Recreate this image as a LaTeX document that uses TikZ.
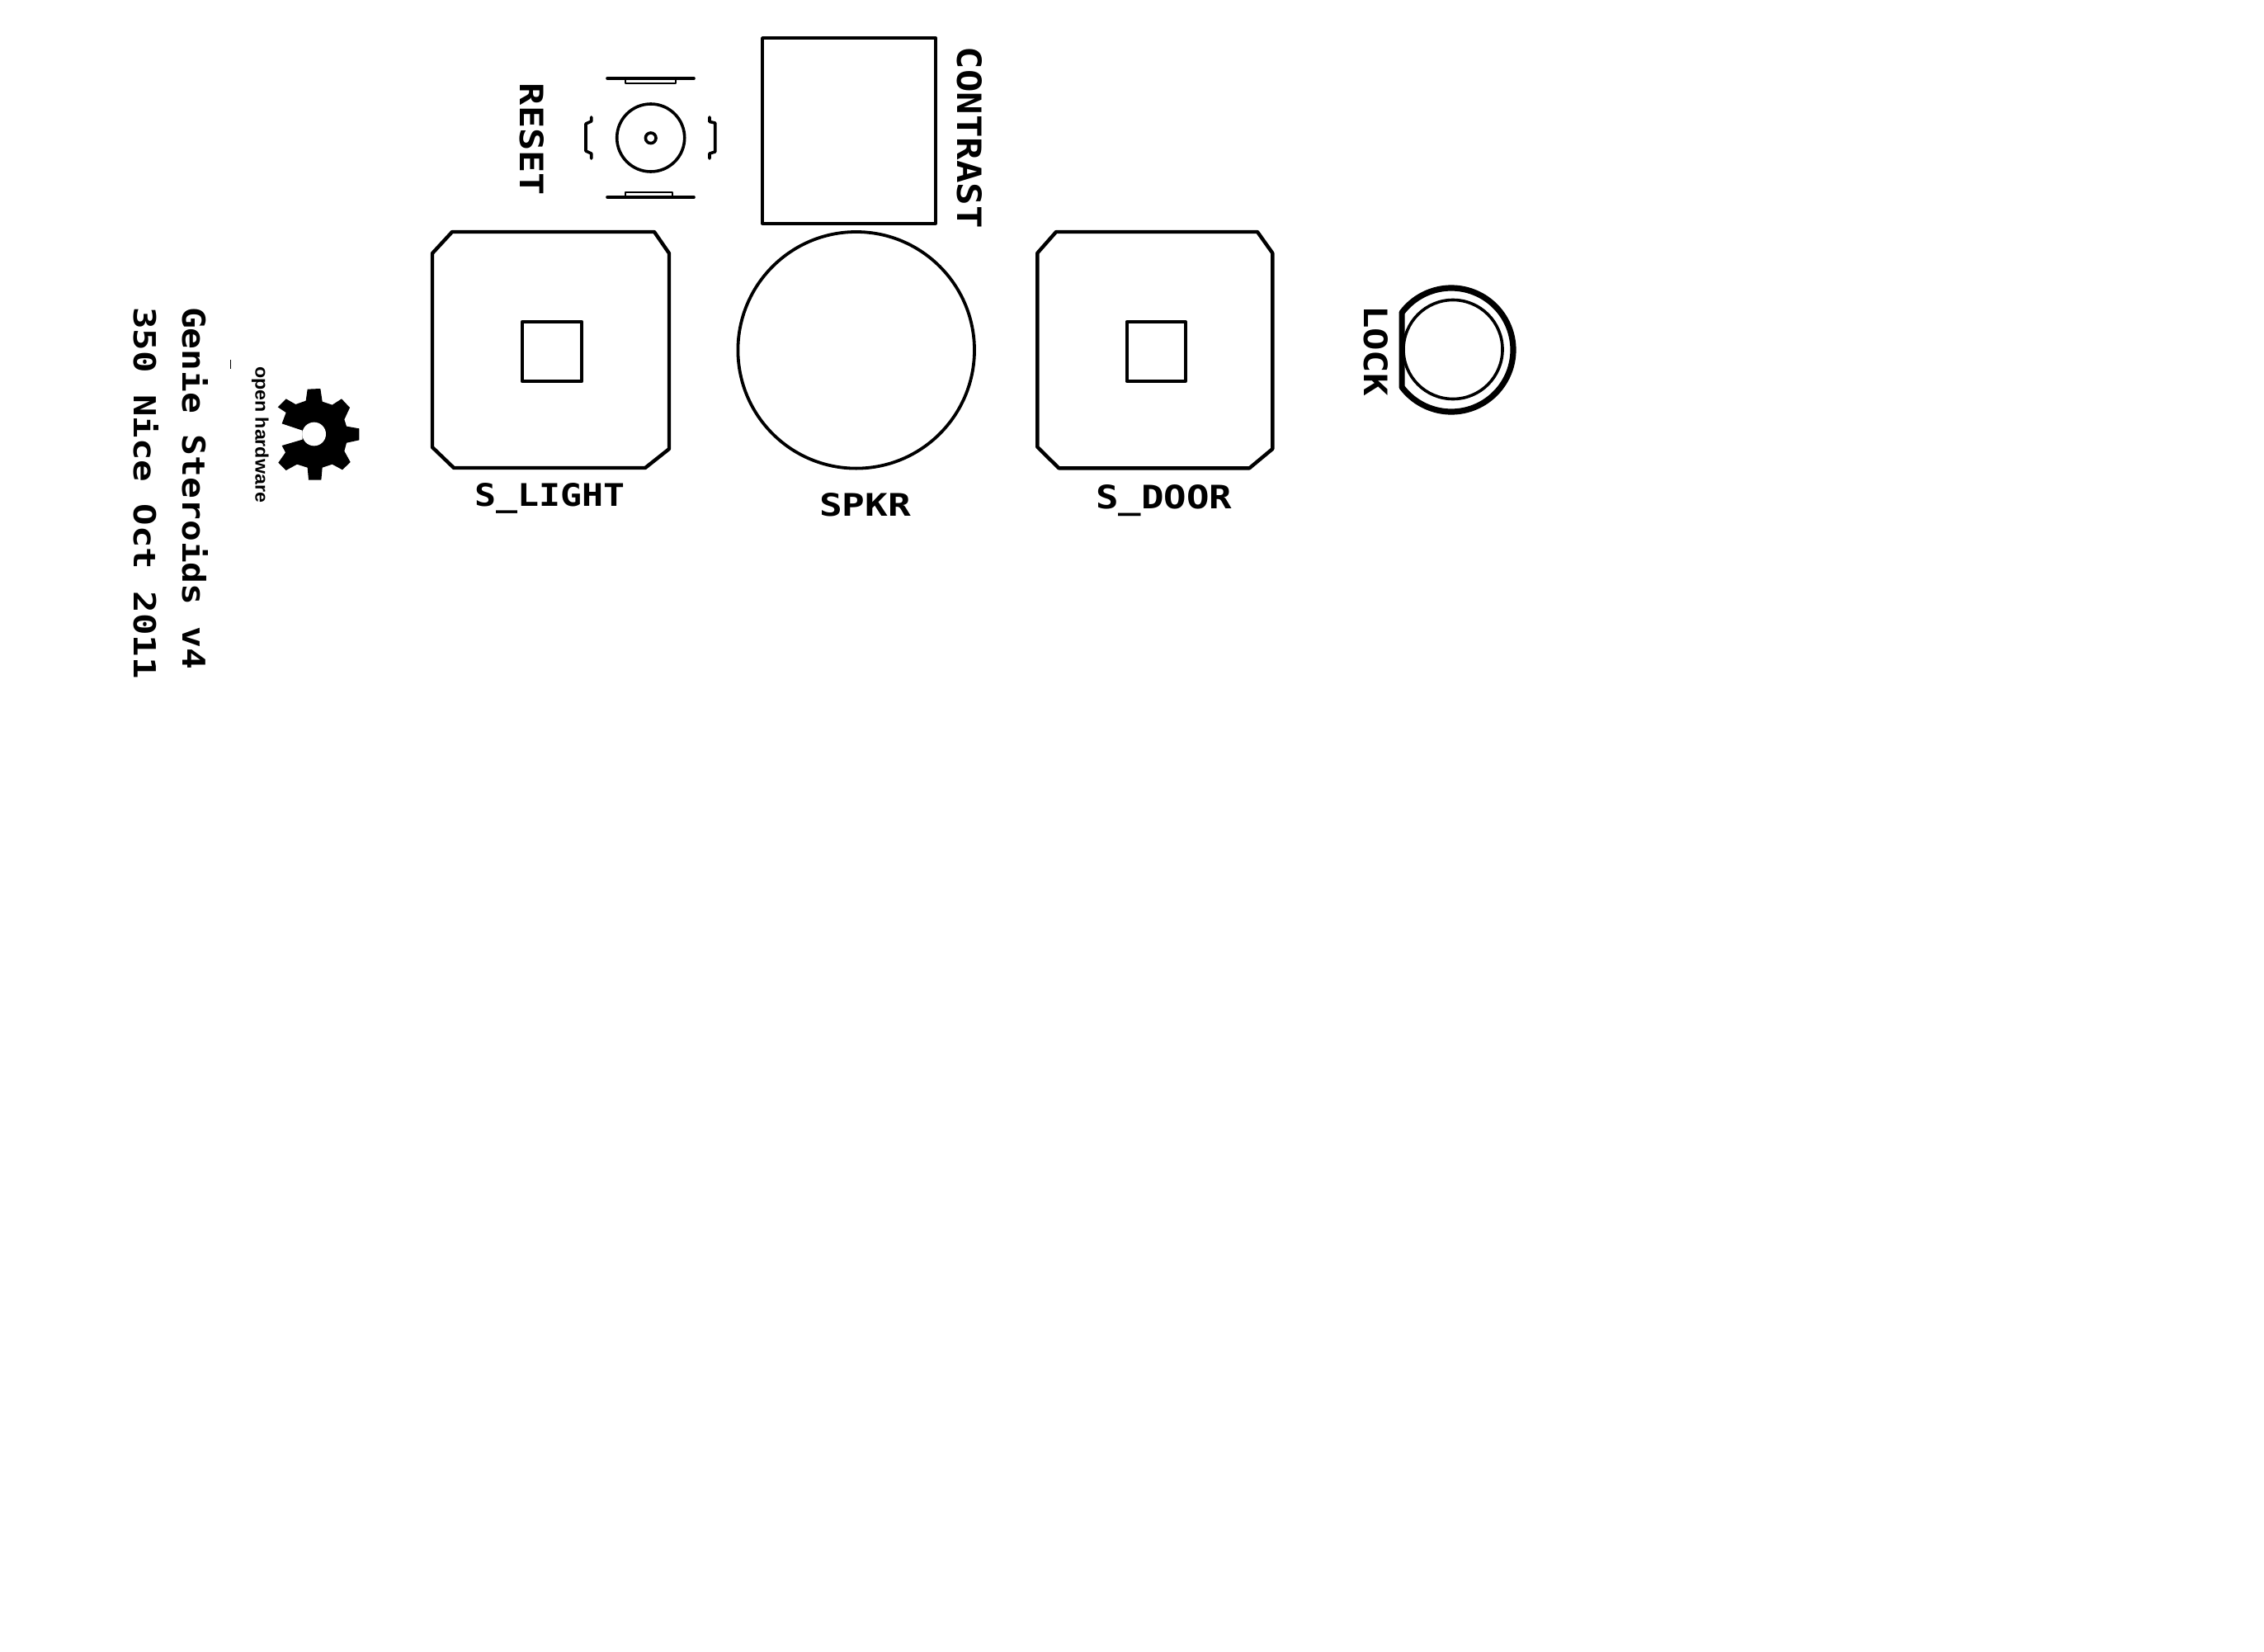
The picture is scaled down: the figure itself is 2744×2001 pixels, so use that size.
\documentclass[tikz,border=0pt]{standalone}
\usepackage{graphicx}
\usepackage{fontspec}
\setmainfont{Liberation Sans}
\newfontfamily\vecfont{DejaVu Sans Mono Bold}
\newfontfamily\logofont{Liberation Sans}
\newlength{\pxu}
\setlength{\pxu}{0.5pt}
% name, anchor point, rotation, width, height, text
\newcommand{\silk}[7][\vecfont]{%
  \node[silktext,rotate=#4] (#2) at (#3) {\resizebox{#5\pxu}{#6\pxu}{#1\ignorespaces #7}};}
\tikzset{
  silktext/.style={anchor=base west,inner sep=0pt,outer sep=0pt,text=black},
  thick line/.style={draw=black,line width=2.2pt,line join=round,line cap=round},
  mid line/.style={draw=black,line width=1.9pt,line join=round,line cap=round},
  thin line/.style={draw=black,line width=0.8pt,line join=round,line cap=round},
  bar line/.style={draw=black,line width=1.8pt,line join=round,line cap=round},
}
\begin{document}
\begin{tikzpicture}[x=0.5pt,y=-0.5pt]
\useasboundingbox[fill=white] (0,0) rectangle (2744,2001);

% board text
\silk{title}{221,372}{-90}{439}{31}{Genie Steroids v4}
\silk{date}{162,372}{-90}{451}{30}{350 Nice Oct 2011}
\silk[\logofont\bfseries]{oh}{309.5,444}{-90}{165}{16}{open hardware}
\draw[draw=black,line width=0.5pt] (279.5,436) -- (279.5,447);

% open hardware gear
\begin{scope}[shift={(120,340)},x=0.16667pt,y=-0.16667pt]
\fill[black] (740,545) -- (665,520) -- (680,480) -- (650,460) -- (680,430) -- (715,450)
  -- (752,437) -- (758,395) -- (805,393) -- (812,440) -- (848,452) -- (882,430)
  -- (912,462) -- (892,505) -- (900,530) -- (946,538) -- (946,580) -- (900,590)
  -- (892,620) -- (914,660) -- (885,688) -- (848,668) -- (812,680) -- (808,725)
  -- (762,725) -- (758,680) -- (720,668) -- (680,690) -- (652,662) -- (678,625)
  -- (665,600) -- (740,578) -- cycle;
\fill[white] (782,558) circle[radius=43];
\end{scope}

% RESET switch
\silk{reset}{630,101}{-90}{136}{29}{RESET}
\draw[bar line] (736,95) -- (841,95);
\draw[thin line] (758,95) rectangle (819,101);
\draw[bar line] (736,239) -- (841,239);
\draw[thin line] (758,233) rectangle (815,239);
\draw[bar line] (788.7,167) circle[radius=41];
\draw[bar line] (788.7,167.3) circle[radius=6.3];
\draw[bar line] (716.7,142) -- (716.7,147) -- (710,150) -- (710,183) -- (716.7,186) -- (716.7,192);
\draw[bar line] (860,142) -- (860,147.5) -- (866.7,149) -- (866.7,184) -- (860,186) -- (860,192);

% CONTRAST
\draw[mid line] (924,46) rectangle (1134,270.7);
\silk{contrast}{1160.5,57}{-90}{220}{30}{CONTRAST}

% S_LIGHT
\draw[thick line] (548,281) -- (793,281) -- (811,307) -- (811,544) -- (782,567) -- (550,567) -- (524,542) -- (524,307) -- cycle;
\draw[thick line] (633,390) rectangle (705,462);
\silk{slight}{575,613}{0}{182}{28}{S\_LIGHT}

% SPKR
\draw[mid line] (1037.7,424.3) circle[radius=143.3];
\silk{spkr}{993,625}{0}{111}{28}{SPKR}

% S_DOOR
\draw[thick line] (1280,281) -- (1524,281) -- (1542.3,306.7) -- (1542.3,544) -- (1514.3,567.3) -- (1283.3,567.3) -- (1257.3,541.7) -- (1257.3,306.7) -- cycle;
\draw[thick line] (1365.7,390) rectangle (1436.7,461.7);
\silk{sdoor}{1328,616}{0}{165}{29}{S\_DOOR}

% LOCK
\silk{lock}{1653,370}{-90}{110}{29}{LOCK}
\draw[draw=black,line width=3.6pt,line join=round] plot[domain=-143:143,samples=80,smooth] ({1759+75*cos(\x)},{424+75*sin(\x)}) -- cycle;
\draw[bar line] (1761,423.5) circle[radius=60];
\end{tikzpicture}
\end{document}
